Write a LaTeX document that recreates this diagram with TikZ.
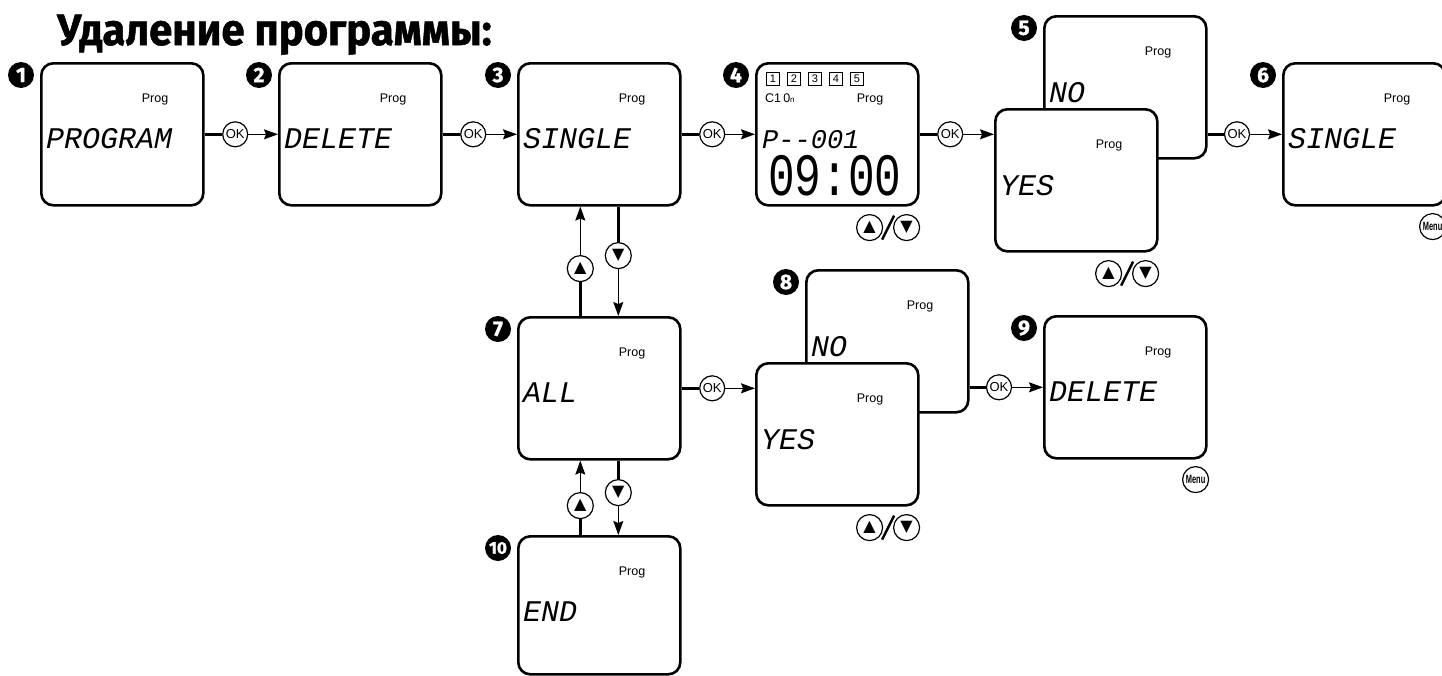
\documentclass[tikz,border=0pt]{standalone}
\usepackage{fontspec}
\setmainfont{Liberation Sans}
\setmonofont{Liberation Mono}
\newfontfamily\titlefont{Fira Sans}[BoldFeatures={FakeBold=1.2}]
\newfontfamily\symfont{DejaVu Sans}
\usetikzlibrary{positioning,arrows.meta,calc}

\begin{document}
\begin{tikzpicture}[x=1pt,y=-1pt,
    screen/.style={draw,line width=2.6pt,rounded corners=12pt,minimum width=162pt,minimum height=142pt,inner sep=0pt,anchor=north west},
    screenfront/.style={screen,fill=white},
    badge/.style={circle,fill=black,text=white,minimum size=26pt,inner sep=0pt,font=\titlefont\bfseries\fontsize{21}{21}\selectfont},
    prog/.style={font=\fontsize{12.5}{12.5}\selectfont,inner sep=0pt,anchor=base},
    lcd/.style={font=\ttfamily\itshape\fontsize{30}{30}\selectfont,inner sep=0pt,anchor=base west},
    daybox/.style={draw,line width=0.8pt,minimum size=13pt,inner sep=0pt,font=\fontsize{11}{11}\selectfont},
    okbtn/.style={circle,draw,line width=1.2pt,minimum size=25pt,inner sep=0pt,font=\fontsize{13}{13}\selectfont},
    keybtn/.style={circle,draw,line width=1.2pt,minimum size=26pt,inner sep=0pt,font=\symfont\fontsize{16}{16}\selectfont},
    menubtn/.style={circle,draw,line width=1.2pt,minimum size=26pt,inner sep=0pt,font=\bfseries\fontsize{12}{12}\selectfont},
    wire/.style={line width=2.6pt},
    flow/.style={line width=1.2pt,-{Stealth[length=14pt,width=10pt,inset=2pt]}}
  ]
  \useasboundingbox (0,0) rectangle (1442,675);

  % title
  \node[anchor=base west,inner sep=0pt,font=\titlefont\bfseries\fontsize{44}{44}\selectfont] (title) at (57,45) {\scalebox{0.95}[1]{Удаление программы:}};

  % screens
  \node[screen] (b1) at (40,62) {};
  \node[screen] (b2) at (278,62) {};
  \node[screen] (b3) at (517,62) {};
  \node[screen] (b4) at (755,62) {};
  \node[screen] (b5n) at (1043,15) {};
  \node[screenfront] (b5y) at (994,108) {};
  \node[screen] (b6) at (1282,62) {};
  \node[screen] (b7) at (517,316) {};
  \node[screen] (b8n) at (805,269) {};
  \node[screenfront] (b8y) at (755,362) {};
  \node[screen] (b9) at (1043,315) {};
  \node[screen,minimum height=138pt] (b10) at (517,535) {};

  % step numbers
  \foreach \s/\n in {b1/1,b2/2,b3/3,b4/4,b5n/5,b6/6,b7/7,b8n/8,b9/9}
    \node[badge] (n\n) at ($(\s.north west)+(-19,13)$) {\n};
  \node[badge,font=\titlefont\bfseries\fontsize{17}{17}\selectfont] (n10) at ($(b10.north west)+(-19,13)$) {10};

  % display texts
  \foreach \s in {b1,b2,b3,b4,b5n,b5y,b6,b7,b8n,b8y,b9,b10}
    \node[prog] (p\s) at ($(\s.north west)+(115,40)$) {Prog};
  \node[lcd] (t1) at ($(b1.north west)+(6,86)$) {PROGRAM};
  \node[lcd] (t2) at ($(b2.north west)+(6,86)$) {DELETE};
  \node[lcd] (t3) at ($(b3.north west)+(6,86)$) {SINGLE};
  \node[lcd] (t5n) at ($(b5n.north west)+(6,87)$) {NO};
  \node[lcd] (t5y) at ($(b5y.north west)+(6,87)$) {YES};
  \node[lcd] (t6) at ($(b6.north west)+(6,86)$) {SINGLE};
  \node[lcd] (t7) at ($(b7.north west)+(6,86)$) {ALL};
  \node[lcd] (t8n) at ($(b8n.north west)+(6,87)$) {NO};
  \node[lcd] (t8y) at ($(b8y.north west)+(6,87)$) {YES};
  \node[lcd] (t9) at ($(b9.north west)+(6,86)$) {DELETE};
  \node[lcd] (t10) at ($(b10.north west)+(6,86)$) {END};

  % screen 4 details
  \foreach \i in {1,...,5}
    \node[daybox] (d\i) at ($(b4.north west)+({18+21*(\i-1)},17)$) {\i};
  \node[prog,anchor=base west] (c4) at ($(b4.north west)+(10,40)$) {C1\,0{\fontsize{8}{8}\selectfont n}};
  \node[lcd,font=\ttfamily\itshape\fontsize{27}{27}\selectfont] (t4a) at ($(b4.north west)+(7,86)$) {P--001};
  \node[inner sep=0pt,anchor=base west,font=\ttfamily\fontsize{60}{60}\selectfont] (t4b) at ($(b4.north west)+(13,133)$) {\scalebox{0.74}[1]{09:00}};

  % OK keys
  \node[okbtn,right=17.5pt of b1] (ok1) {OK};
  \node[okbtn,right=17.5pt of b2] (ok2) {OK};
  \node[okbtn,right=17.5pt of b3] (ok3) {OK};
  \node[okbtn,right=17.5pt of b4] (ok4) {OK};
  \node[okbtn] (ok5) at ($(b6.west)+(-45,0)$) {OK};
  \node[okbtn,right=17.5pt of b7] (ok7) {OK};
  \node[okbtn] (ok8) at ($(b9.west)+(-44,0)$) {OK};

  \draw[wire] (b1) -- (ok1);
  \draw[flow] (ok1) -- (b2);
  \draw[wire] (b2) -- (ok2);
  \draw[flow] (ok2) -- (b3);
  \draw[wire] (b3) -- (ok3);
  \draw[flow] (ok3) -- (b4);
  \draw[wire] (b4) -- (ok4);
  \draw[flow] (ok4) -- (ok4 -| b5y.west);
  \draw[wire] (ok5 -| b5n.east) -- (ok5);
  \draw[flow] (ok5) -- (b6);
  \draw[wire] (b7) -- (ok7);
  \draw[flow] (ok7) -- (ok7 -| b8y.west);
  \draw[wire] (ok8 -| b8n.east) -- (ok8);
  \draw[flow] (ok8) -- (b9);

  % up / down keys between screens
  \node[keybtn] (u3) at ($(b3.south)+(-19,62)$) {▲};
  \node[keybtn] (v3) at ($(b3.south)+(19,49)$) {▼};
  \node[keybtn] (u7) at ($(b7.south)+(-19,45)$) {▲};
  \node[keybtn] (v7) at ($(b7.south)+(19,32)$) {▼};

  \draw[wire] (b7.north -| u3) -- (u3);
  \draw[flow] (u3) -- (b3.south -| u3);
  \draw[wire] (b3.south -| v3) -- (v3);
  \draw[flow] (v3) -- (b7.north -| v3);
  \draw[wire] (b10.north -| u7) -- (u7);
  \draw[flow] (u7) -- (b7.south -| u7);
  \draw[wire] (b7.south -| v7) -- (v7);
  \draw[flow] (v7) -- (b10.north -| v7);

  % up/down pairs below screens
  \foreach \s in {b4,b5y,b8y} {
    \node[keybtn] (u\s) at ($(\s.south east)+(-50,21)$) {▲};
    \node[keybtn] (v\s) at ($(\s.south east)+(-13,21)$) {▼};
    \draw[line width=2.4pt] ($(u\s)!0.5!(v\s)+(-6,12)$) -- ($(u\s)!0.5!(v\s)+(6,-12)$);
  }

  % menu keys
  \node[menubtn] (m6) at ($(b6.south east)+(-14,20)$) {\scalebox{0.62}[1]{Menu}};
  \node[menubtn] (m9) at ($(b9.south east)+(-12,20)$) {\scalebox{0.62}[1]{Menu}};
\end{tikzpicture}
\end{document}
